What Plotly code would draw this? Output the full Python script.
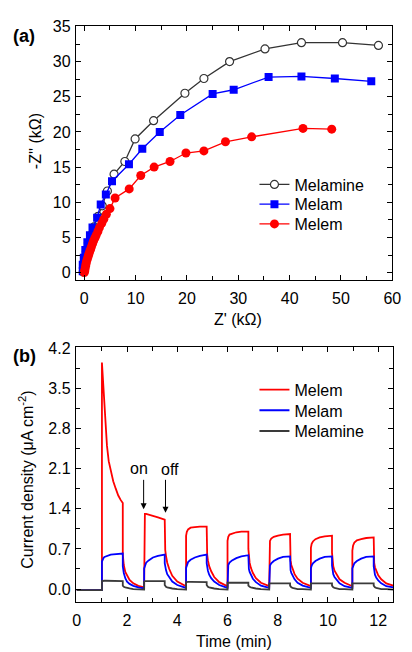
import plotly.graph_objects as go

# ---------------- (a) Nyquist data (kOhm) ----------------
melamine_zre = [-0.2, -0.1, 0.1, 0.4, 0.8, 1.3, 1.9, 2.7, 3.5, 4.5, 5.8, 7.9, 9.9, 13.5, 19.6, 23.3, 28.3, 35.2, 42.3, 50.3, 57.3]
melamine_zim = [0.1, 0.8, 1.8, 3.0, 4.2, 5.3, 6.5, 8.0, 9.5, 11.6, 14.0, 15.8, 19.0, 21.6, 25.5, 27.6, 30.0, 31.8, 32.7, 32.7, 32.3]

melam_zre = [-0.3, -0.3, -0.1, 0.2, 0.6, 1.1, 1.6, 2.5, 3.2, 4.2, 5.4, 8.7, 11.3, 14.7, 18.7, 25.0, 29.1, 35.9, 42.3, 48.8, 55.9]
melam_zim = [0.2, 1.1, 2.1, 3.2, 4.3, 5.3, 6.4, 7.8, 9.7, 11.1, 13.0, 15.4, 17.6, 20.0, 22.4, 25.4, 26.0, 27.8, 27.9, 27.6, 27.2]

melem_zre = [0.0, 0.06, 0.15, 0.25, 0.35, 0.44, 0.6, 0.75, 0.9, 1.06, 1.25, 1.4, 1.6, 1.8, 2.05, 2.3, 2.65, 2.95,
             3.4, 3.8, 4.3, 5.0, 6.0, 8.75, 11.0, 13.6, 16.7, 19.8, 23.3, 27.5, 32.6, 42.6, 48.2]
melem_zim = [0.0, 0.2, 0.5, 0.9, 1.25, 1.6, 1.95, 2.3, 2.65, 3.0, 3.35, 3.7, 4.1, 4.5, 4.9, 5.3, 5.85, 6.4,
             7.0, 7.6, 8.3, 9.1, 10.6, 11.9, 13.8, 15.0, 15.8, 17.0, 17.3, 18.6, 19.3, 20.5, 20.4]

# ---------------- (b) transient photocurrent data ----------------
time_min = [
    0.0, 1.0,
    1.0, 1.03, 1.06, 1.1, 1.15, 1.2, 1.27, 1.35, 1.45, 1.55, 1.65, 1.75, 1.83,
    1.83, 1.87, 1.93, 2.0, 2.1, 2.25, 2.45, 2.68,
    2.68, 2.71, 2.76, 2.86, 3.03, 3.23, 3.5,
    3.5, 3.52, 3.55, 3.6, 3.68, 3.8, 4.0, 4.35,
    4.35, 4.38, 4.43, 4.53, 4.7, 4.9, 5.17,
    5.17, 5.19, 5.22, 5.27, 5.35, 5.47, 5.67, 6.0,
    6.0, 6.03, 6.08, 6.18, 6.35, 6.55, 6.83,
    6.83, 6.85, 6.88, 6.93, 7.01, 7.13, 7.33, 7.66,
    7.66, 7.69, 7.74, 7.84, 8.01, 8.21, 8.49,
    8.49, 8.51, 8.54, 8.59, 8.67, 8.79, 8.99, 9.32,
    9.32, 9.35, 9.4, 9.5, 9.67, 9.87, 10.16,
    10.16, 10.18, 10.21, 10.26, 10.34, 10.46, 10.66, 10.97,
    10.97, 11.0, 11.05, 11.15, 11.32, 11.52, 11.82,
    11.82, 11.84, 11.87, 11.92, 12.0, 12.12, 12.32, 12.6,
]
j_melem = [
    -0.02, -0.02,
    3.95, 3.7, 3.45, 3.12, 2.75, 2.5, 2.23, 2.05, 1.88, 1.75, 1.63, 1.55, 1.5,
    0.6, 0.42, 0.3, 0.23, 0.16, 0.1, 0.055, 0.03,
    1.27, 1.31, 1.31, 1.3, 1.28, 1.25, 1.21,
    0.85, 0.68, 0.58, 0.46, 0.35, 0.23, 0.13, 0.05,
    0.93, 1.0, 1.04, 1.07, 1.08, 1.09, 1.09,
    0.75, 0.6, 0.5, 0.4, 0.31, 0.21, 0.12, 0.05,
    0.84, 0.91, 0.95, 0.97, 0.99, 1.0, 1.0,
    0.7, 0.55, 0.46, 0.37, 0.28, 0.19, 0.11, 0.05,
    0.77, 0.84, 0.88, 0.91, 0.93, 0.95, 0.96,
    0.66, 0.5, 0.42, 0.34, 0.26, 0.18, 0.11, 0.05,
    0.72, 0.79, 0.83, 0.87, 0.9, 0.92, 0.93,
    0.63, 0.48, 0.4, 0.32, 0.25, 0.17, 0.11, 0.05,
    0.67, 0.76, 0.81, 0.85, 0.87, 0.89, 0.9,
    0.6, 0.45, 0.38, 0.31, 0.24, 0.17, 0.1, 0.06,
]
j_melam = [
    -0.02, -0.02,
    0.48, 0.52, 0.54, 0.56, 0.57, 0.58, 0.59, 0.6, 0.605, 0.61, 0.615, 0.62, 0.62,
    0.4, 0.28, 0.19, 0.13, 0.09, 0.055, 0.03, 0.01,
    0.36, 0.42, 0.46, 0.5, 0.55, 0.58, 0.6,
    0.45, 0.38, 0.33, 0.26, 0.2, 0.13, 0.07, 0.02,
    0.37, 0.43, 0.47, 0.51, 0.55, 0.58, 0.6,
    0.45, 0.37, 0.32, 0.25, 0.19, 0.13, 0.07, 0.02,
    0.36, 0.42, 0.46, 0.5, 0.54, 0.57, 0.59,
    0.43, 0.35, 0.3, 0.24, 0.18, 0.12, 0.06, 0.02,
    0.36, 0.41, 0.45, 0.49, 0.53, 0.56, 0.57,
    0.42, 0.33, 0.28, 0.23, 0.17, 0.11, 0.06, 0.02,
    0.36, 0.41, 0.45, 0.49, 0.53, 0.56, 0.57,
    0.41, 0.31, 0.26, 0.21, 0.16, 0.1, 0.05, 0.02,
    0.36, 0.41, 0.45, 0.49, 0.53, 0.56, 0.57,
    0.4, 0.3, 0.25, 0.2, 0.15, 0.1, 0.05, 0.03,
]
j_melamine = [
    -0.02, -0.02,
    0.14, 0.145, 0.145, 0.145, 0.145, 0.145, 0.145, 0.145, 0.145, 0.14, 0.14, 0.14, 0.14,
    0.06, 0.04, 0.03, 0.02, 0.01, 0.0, -0.01, -0.01,
    0.13, 0.14, 0.14, 0.14, 0.14, 0.14, 0.14,
    0.07, 0.05, 0.04, 0.03, 0.02, 0.01, 0.0, -0.01,
    0.12, 0.125, 0.125, 0.125, 0.125, 0.12, 0.12,
    0.07, 0.05, 0.04, 0.03, 0.02, 0.01, 0.0, -0.01,
    0.11, 0.11, 0.11, 0.11, 0.11, 0.11, 0.11,
    0.06, 0.05, 0.04, 0.03, 0.02, 0.01, 0.0, -0.01,
    0.1, 0.1, 0.1, 0.1, 0.1, 0.1, 0.1,
    0.06, 0.04, 0.03, 0.02, 0.01, 0.0, 0.0, -0.01,
    0.1, 0.1, 0.1, 0.1, 0.1, 0.1, 0.1,
    0.06, 0.04, 0.03, 0.02, 0.01, 0.0, 0.0, -0.01,
    0.1, 0.1, 0.1, 0.1, 0.1, 0.1, 0.1,
    0.06, 0.04, 0.03, 0.02, 0.01, 0.0, 0.0, -0.01,
]

# arrow annotations: (label, x of arrow, arrow tip y, arrow tail y, label x, label y)
arrow_marks = [("on", 2.66, 1.39, 1.93, 2.47, 2.1), ("off", 3.53, 1.33, 1.93, 3.72, 2.08)]

FONT = "Liberation Sans, Arial, sans-serif"
FS = 16
W, H = 412, 652


def px_x(p):
    return p / W


def px_y(p):
    return 1 - p / H


fig = go.Figure()

# (a)
fig.add_trace(go.Scatter(x=melamine_zre, y=melamine_zim, name="Melamine", mode="lines+markers",
                         line=dict(color="#333333", width=1.3),
                         marker=dict(symbol="circle", size=8, color="white", line=dict(color="#333333", width=1.2)),
                         xaxis="x", yaxis="y", legend="legend"))
fig.add_trace(go.Scatter(x=melam_zre, y=melam_zim, name="Melam", mode="lines+markers",
                         line=dict(color="#0000ff", width=1.3),
                         marker=dict(symbol="square", size=8, color="#0000ff"),
                         xaxis="x", yaxis="y", legend="legend2"))
fig.add_trace(go.Scatter(x=melem_zre, y=melem_zim, name="Melem", mode="lines+markers",
                         line=dict(color="#ff0000", width=1.3),
                         marker=dict(symbol="circle", size=9, color="#ff0000"),
                         xaxis="x", yaxis="y", legend="legend3"))

# (b)
fig.add_trace(go.Scatter(x=time_min, y=j_melem, name="Melem", mode="lines",
                         line=dict(color="#ff0000", width=1.8), xaxis="x2", yaxis="y2", legend="legend4"))
fig.add_trace(go.Scatter(x=time_min, y=j_melam, name="Melam", mode="lines",
                         line=dict(color="#0000ff", width=1.8), xaxis="x2", yaxis="y2", legend="legend5"))
fig.add_trace(go.Scatter(x=time_min, y=j_melamine, name="Melamine", mode="lines",
                         line=dict(color="#3a3a3a", width=1.8), xaxis="x2", yaxis="y2", legend="legend6"))

axis_common = dict(showline=True, linecolor="black", linewidth=1, mirror="allticks",
                   ticks="inside", ticklen=5, tickwidth=1, tickcolor="black",
                   showgrid=False, zeroline=False,
                   tickfont=dict(family=FONT, size=FS, color="black"))
xstand = dict(ticklabelstandoff=4)
ystand = dict(ticklabelstandoff=1)


def legend_at(row_y):
    return dict(x=px_x(259), y=px_y(row_y), xanchor="left", yanchor="middle",
                bgcolor="rgba(0,0,0,0)", font=dict(family=FONT, size=FS))


fig.update_layout(
    width=W, height=H, margin=dict(l=0, r=0, t=0, b=0),
    paper_bgcolor="white", plot_bgcolor="white",
    font=dict(family=FONT, size=FS, color="black"),
    xaxis=dict(domain=[px_x(75), px_x(401)], range=[-1.65, 60], tick0=0, dtick=10,
               minor=dict(dtick=5, ticks="inside", ticklen=4, tickcolor="black"),
               anchor="y", **xstand, **axis_common),
    yaxis=dict(domain=[px_y(276), px_y(18)], range=[-1.08, 35.1], tick0=0, dtick=5,
               minor=dict(dtick=2.5, ticks="inside", ticklen=4, tickcolor="black"),
               anchor="x", **ystand, **axis_common),
    xaxis2=dict(domain=[px_x(75), px_x(402)], range=[-0.04, 12.6], tick0=0, dtick=2,
                minor=dict(dtick=1, ticks="inside", ticklen=4, tickcolor="black"),
                anchor="y2", **xstand, **axis_common),
    yaxis2=dict(domain=[px_y(602), px_y(344)], range=[-0.22, 4.215], tick0=0, dtick=0.7, tickformat=".1f",
                minor=dict(dtick=0.35, ticks="inside", ticklen=4, tickcolor="black"),
                anchor="x2", **ystand, **axis_common),
    legend=legend_at(179),
    legend2=legend_at(199),
    legend3=legend_at(219),
    legend4=legend_at(387),
    legend5=legend_at(408),
    legend6=legend_at(429),
    showlegend=True,
)

annotations = [
    dict(text="<b>(a)</b>", x=px_x(8), y=px_y(28), xref="paper", yref="paper", xanchor="left", yanchor="middle",
         showarrow=False, font=dict(family=FONT, size=18)),
    dict(text="<b>(b)</b>", x=px_x(8), y=px_y(353), xref="paper", yref="paper", xanchor="left", yanchor="middle",
         showarrow=False, font=dict(family=FONT, size=18)),
    dict(text="-Z'' (kΩ)", x=px_x(33), y=px_y(135), xref="paper", yref="paper", textangle=-90,
         xanchor="center", yanchor="middle", showarrow=False, font=dict(family=FONT, size=FS)),
    dict(text="Z' (kΩ)", x=px_x(242), y=px_y(316), xref="paper", yref="paper",
         xanchor="center", yanchor="middle", showarrow=False, font=dict(family=FONT, size=FS)),
    dict(text="Current density (μA cm<sup>-2</sup>)", x=px_x(24), y=px_y(478), xref="paper", yref="paper",
         xanchor="center", yanchor="middle", textangle=-90, showarrow=False, font=dict(family=FONT, size=FS)),
    dict(text="Time (min)", x=px_x(238), y=px_y(642), xref="paper", yref="paper",
         xanchor="center", yanchor="middle", showarrow=False, font=dict(family=FONT, size=FS)),
]
for label, ax_x, tip_y, tail_y, lx, ly in arrow_marks:
    annotations.append(dict(x=ax_x, y=tip_y, ax=ax_x, ay=tail_y, xref="x2", yref="y2", axref="x2", ayref="y2",
                            text="", showarrow=True, arrowhead=2, arrowsize=1.2, arrowwidth=1, arrowcolor="black"))
    annotations.append(dict(x=lx, y=ly, xref="x2", yref="y2", text=label, showarrow=False,
                            font=dict(family=FONT, size=FS)))
fig.update_layout(annotations=annotations)

fig.write_html("out.html")
